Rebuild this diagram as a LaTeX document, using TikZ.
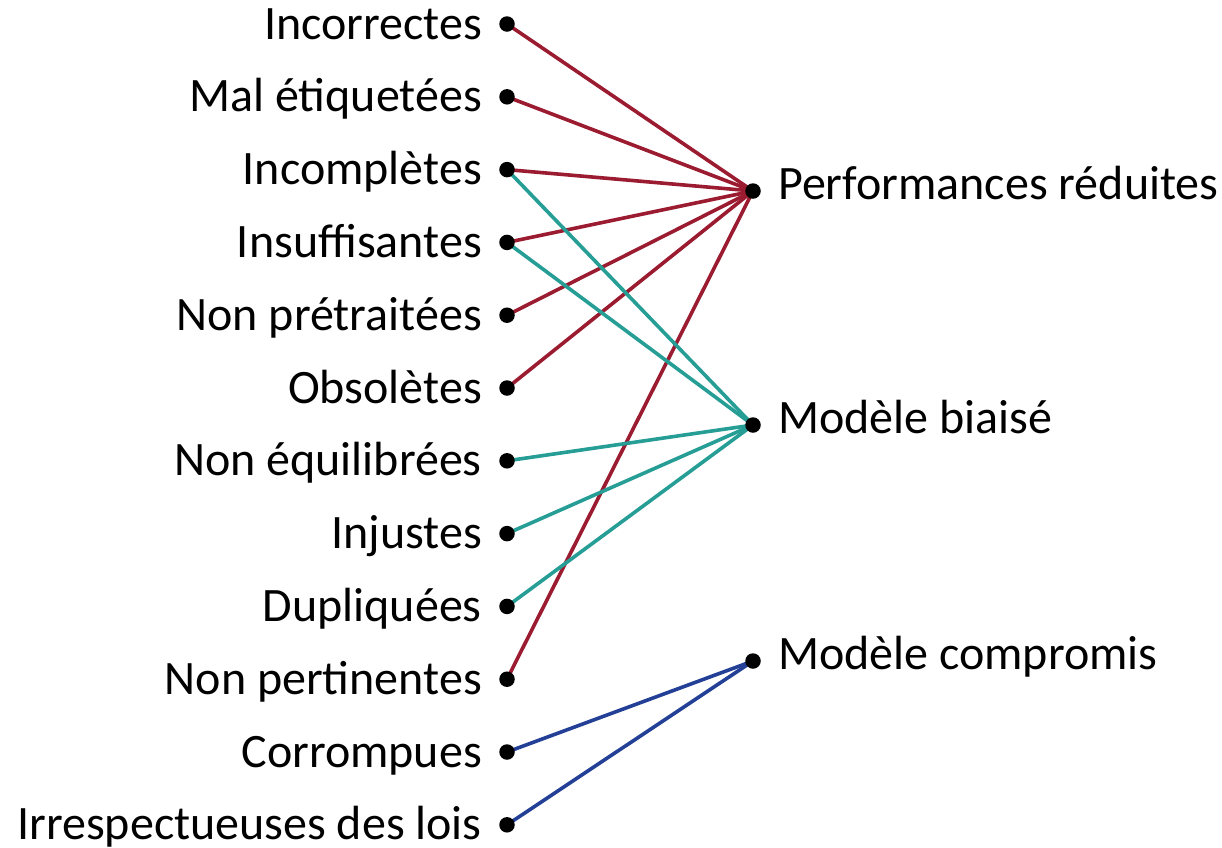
\documentclass[tikz,border=0pt]{standalone}
\usepackage{fontspec}
\setmainfont{Carlito}
\definecolor{linkred}{RGB}{155,27,48}
\definecolor{linkteal}{RGB}{38,158,150}
\definecolor{linkblue}{RGB}{35,64,150}
\begin{document}
\begin{tikzpicture}[x=1pt,y=-1pt,
  dot/.style={circle,fill=black,inner sep=0pt,minimum size=15.5pt},
  lefttext/.style={anchor=base east,inner sep=0pt,font=\fontsize{48}{58}\selectfont},
  righttext/.style={anchor=base west,inner sep=0pt,font=\fontsize{48}{58}\selectfont},
  link/.style={line width=3.6pt},
  redlink/.style={link,draw=linkred},
  teallink/.style={link,draw=linkteal},
  bluelink/.style={link,draw=linkblue}]
\useasboundingbox (0,0) rectangle (1222,847);
% data problems (left column)
\foreach \name/\txt [count=\i from 0] in {
  a/Incorrectes, b/Mal étiquetées, c/Incomplètes, d/Insuffisantes,
  e/Non prétraitées, f/Obsolètes, g/Non équilibrées, h/Injustes,
  k/Dupliquées, l/Non pertinentes, m/Corrompues, n/Irrespectueuses des lois}{
  \coordinate (\name) at (507,{24+72.8*\i});
  \node[lefttext] (\name-t) at (482,{39+72.8*\i}) {\txt};
}
% consequences (right column)
\coordinate (perf) at (753,191);
\coordinate (bias) at (753,425);
\coordinate (comp) at (753,661);
\node[righttext] (perf-t) at (778,199) {Performances réduites};
\node[righttext] (bias-t) at (778,433) {Modèle biaisé};
\node[righttext] (comp-t) at (778,669) {Modèle compromis};
% links
\foreach \s in {a,b,c,d,e,f,l}{\draw[redlink] (\s) -- (perf);}
\foreach \s in {c,d,g,h,k}{\draw[teallink] (\s) -- (bias);}
\foreach \s in {m,n}{\draw[bluelink] (\s) -- (comp);}
% dots on top of the links
\foreach \s in {a,b,c,d,e,f,g,h,k,l,m,n,perf,bias,comp}{\node[dot] at (\s) {};}
\end{tikzpicture}
\end{document}
